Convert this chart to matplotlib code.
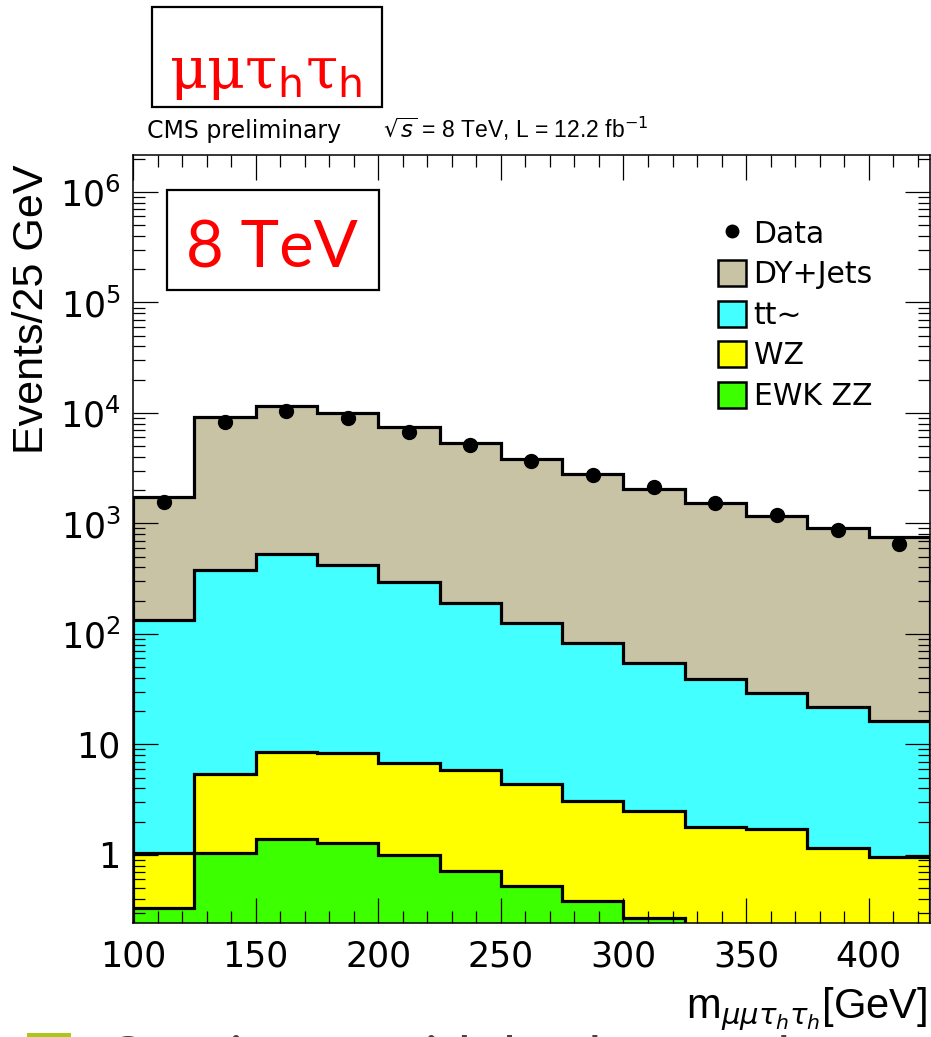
import numpy as np
import matplotlib
matplotlib.use("Agg")
import matplotlib.pyplot as plt
from matplotlib.lines import Line2D
from matplotlib.patches import Patch, Rectangle
from matplotlib.ticker import MultipleLocator, LogLocator, NullFormatter

# binning: 25 GeV bins from 100 to 425 GeV
edges = np.arange(100, 426, 25)
centers = edges[:-1] + 12.5

# observed events per bin
data = [1570, 8320, 10330, 8930, 6760, 5130, 3680, 2720, 2150, 1520, 1190, 870, 650]

# expected yields per process (stacked bottom to top: ZZ, WZ, tt, DY)
ewk_zz = [0.33, 1.04, 1.39, 1.29, 0.99, 0.72, 0.52, 0.38, 0.27, 0.10, 0.10, 0.10, 0.10]
wz = [0.72, 4.33, 7.20, 7.02, 5.76, 5.15, 3.87, 2.71, 2.25, 1.68, 1.62, 1.06, 0.85]
ttbar = [133, 374, 517, 413, 290, 183, 121, 79, 52.5, 37.2, 27.7, 20.5, 15.2]
dy_jets = [1600, 8760, 10950, 9510, 7170, 5120, 3715, 2705, 2010, 1505, 1140, 895, 730]

labels = ["DY+Jets", "tt~", "WZ", "EWK ZZ"]
colors = ["#c9c3a6", "#44ffff", "#ffff00", "#3cff00"]

plt.rcParams["font.family"] = ["DejaVu Sans"]
plt.rcParams["mathtext.fontset"] = "dejavusans"

W, H = 931, 1037


def fx(x):
    return x / W


def fy(y):
    return 1 - y / H


fig = plt.figure(figsize=(W / 100, H / 100), dpi=100)
ax = fig.add_axes([fx(133), fy(923), fx(930) - fx(133), fy(155) - fy(923)])

# cumulative stack, drawn from the top layer down
stack = [np.array(ewk_zz)]
for vals in (wz, ttbar, dy_jets):
    stack.append(stack[-1] + np.array(vals))
stack = stack[::-1]

floor = 1e-3
for tops, col in zip(stack, colors):
    ax.stairs(tops, edges, baseline=floor, fill=True, color=col, lw=0)
    ax.stairs(tops, edges, baseline=floor, fill=False, color="black", lw=2.3)

ax.plot(centers, data, "o", color="black", ms=10, zorder=5)

ax.set_yscale("log")
ax.set_xlim(100, 425)
ax.set_ylim(0.242, 2.16e6)

ax.set_yticks([1, 10, 1e2, 1e3, 1e4, 1e5, 1e6])
ax.set_yticklabels(["1", "10", "$10^{2}$", "$10^{3}$", "$10^{4}$", "$10^{5}$", "$10^{6}$"])
ax.yaxis.set_minor_locator(LogLocator(base=10, subs=np.arange(2, 10)))
ax.yaxis.set_minor_formatter(NullFormatter())
ax.set_xticks(range(100, 401, 50))
ax.xaxis.set_minor_locator(MultipleLocator(10))

ax.tick_params(which="both", direction="in", top=True, right=True, width=0.9, labelsize=25)
ax.tick_params(which="major", length=18)
ax.tick_params(which="minor", length=8.5)
ax.tick_params(axis="y", pad=9)
ax.tick_params(axis="x", pad=12)
for s in ax.spines.values():
    s.set_linewidth(1.1)

# legend
handles = [Line2D([], [], marker="o", ls="none", color="black", ms=9)]
handles += [Patch(facecolor=c, edgecolor="black", lw=1.8) for c in colors]
ax.legend(handles, ["Data"] + labels, loc="upper left", bbox_to_anchor=(0.715, 0.935),
          frameon=False, fontsize=21.5, handlelength=0.95, handleheight=0.95,
          handletextpad=0.25, labelspacing=0.38, borderpad=0)

# axis titles
fig.text(fx(32), fy(165), "Events/25 GeV", rotation=90, ha="center", va="top", fontsize=31,
         family="Liberation Sans")
fig.text(fx(927), fy(1018), r"m$_{\mu\mu\tau_{h}\tau_{h}}$[GeV]", ha="right",
         va="baseline", fontsize=30, family="Liberation Sans")

# header line
fig.text(fx(147), fy(138), "CMS preliminary", fontsize=17, va="baseline")
fig.text(fx(383), fy(138), r"$\sqrt{s}$ = 8 TeV, L = 12.2 fb$^{-1}$", fontsize=16.5,
         va="baseline", family="Liberation Sans")

# channel and energy boxes
fig.patches.append(Rectangle((fx(152), fy(107)), fx(382) - fx(152), fy(7) - fy(107),
                             transform=fig.transFigure, fill=False, ec="black", lw=1.6))
fig.text(fx(266), fy(74), r"$\mathrm{\mu\mu\tau}_{\mathsf{h}}\mathrm{\tau}_{\mathsf{h}}$",
         color="red", fontsize=42, ha="center", va="center", math_fontfamily="dejavuserif")

fig.patches.append(Rectangle((fx(167), fy(290)), fx(379) - fx(167), fy(190) - fy(290),
                             transform=fig.transFigure, fill=False, ec="black", lw=1.6))
fig.text(fx(272), fy(267), "8 TeV", color="red", fontsize=47, ha="center",
         va="baseline", family="Lato")

# slide bullet below the chart
fig.patches.append(Rectangle((fx(27), fy(H + 10)), fx(71) - fx(27), fy(1033) - fy(H + 10),
                             transform=fig.transFigure, color="#a8c81a", lw=0))
fig.text(fx(106), fy(1075), "Consistent with background expectation", color="#454545",
         fontsize=40, va="baseline", family="Lato")

fig.savefig("out.png", dpi=100)
